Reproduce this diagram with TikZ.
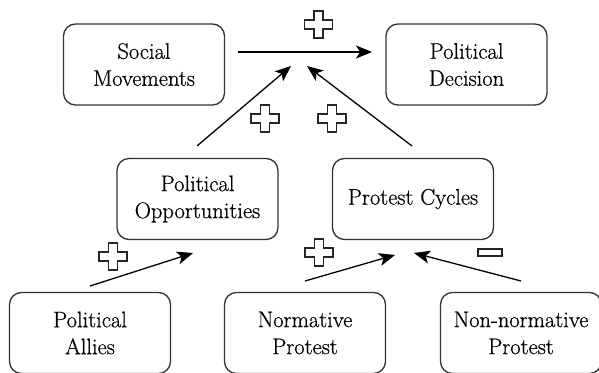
\documentclass[tikz,border=0pt]{standalone}
\usepackage{fontspec}
\newfontfamily\boxfont{Latin Modern Roman}[FakeBold=0.6]
\usetikzlibrary{arrows.meta}

\tikzset{
  factor/.style={draw=black!80, line width=1.3pt, rounded corners=12pt,
    minimum width=161pt, minimum height=81pt, inner sep=0pt, align=center,
    font=\boxfont\fontsize{22.5}{27}\selectfont},
  link/.style={draw=black, line width=1.3pt,
    -{Stealth[length=16pt,width=13pt,inset=4pt]}},
  sign/.style={draw=black!85, line width=1.2pt, fill=white},
  pics/plussign/.style={code={
    \path[sign] (-4.5,-13.5) -- (4.5,-13.5) -- (4.5,-4.5) -- (14,-4.5)
      -- (14,4.5) -- (4.5,4.5) -- (4.5,13.5) -- (-4.5,13.5) -- (-4.5,4.5)
      -- (-14,4.5) -- (-14,-4.5) -- (-4.5,-4.5) -- cycle;}},
  pics/minussign/.style={code={
    \path[sign] (-12,-3.5) rectangle (12,3.5);}}
}

\begin{document}
\begin{tikzpicture}[x=1pt, y=-1pt]
  \useasboundingbox (0,0) rectangle (599,372);
  \clip (0,0) rectangle (599,372);

  % boxes
  \node[factor] (sm) at (144,64.5)  {Social\\Movements};
  \node[factor] (pd) at (466.5,64.5) {Political\\Decision};
  \node[factor] (po) at (197.5,199) {Political\\Opportunities};
  \node[factor] (pc) at (413,199)   {Protest Cycles};
  \node[factor] (pa) at (90,333)    {Political\\Allies};
  \node[factor] (np) at (305,333)   {Normative\\Protest};
  \node[factor] (nn) at (521,333)   {Non-normative\\Protest};

  % arrow end points
  \coordinate (smOut) at (238,52);
  \coordinate (pdIn)  at (372,52);
  \coordinate (poOut) at (197,146);
  \coordinate (pcOut) at (412,146);
  \coordinate (midL)  at (291,66);
  \coordinate (midR)  at (307,66);
  \coordinate (paOut) at (90,286);
  \coordinate (poIn)  at (193,253);
  \coordinate (npOut) at (305,281);
  \coordinate (pcInL) at (395,255);
  \coordinate (nnOut) at (521,281);
  \coordinate (pcInR) at (414,253);

  % connectors
  \draw[link] (smOut) -- (pdIn);
  \draw[link] (poOut) -- (midL);
  \draw[link] (pcOut) -- (midR);
  \draw[link] (paOut) -- (poIn);
  \draw[link] (npOut) -- (pcInL);
  \draw[link] (nnOut) -- (pcInR);

  % signs of the effects
  \pic at (318.5,24.5) {plussign};
  \pic at (265,118.5)  {plussign};
  \pic at (332,118.5)  {plussign};
  \pic at (113,256.5)  {plussign};
  \pic at (319,252.5)  {plussign};
  \pic at (490,252.5)  {minussign};
\end{tikzpicture}
\end{document}
